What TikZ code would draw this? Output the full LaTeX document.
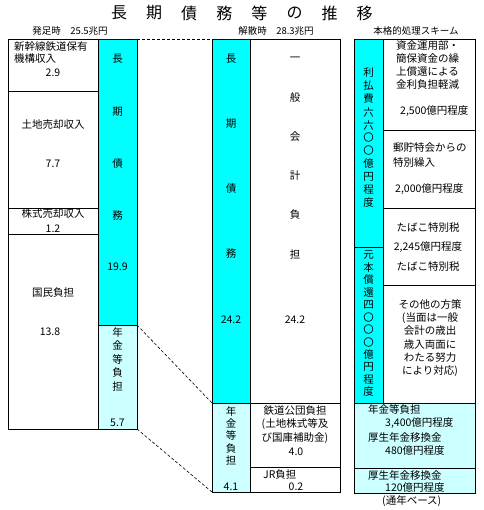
\documentclass[tikz,border=0pt]{standalone}
\usepackage{fontspec}
\setmainfont{Noto Sans CJK JP}
\usepackage{xcolor}
\definecolor{DebtCyan}{HTML}{00FFFF}
\definecolor{PensionCyan}{HTML}{CCFFFF}
\usepackage{tikz}
\usetikzlibrary{positioning}
\tikzset{
  cellbox/.style={
    draw,
    fill=white,
    line width=0.9pt,
    anchor=north west,
    inner sep=0pt,
    outer sep=0pt
  },
  debtbar/.style={cellbox, fill=DebtCyan},
  pensionbar/.style={cellbox, fill=PensionCyan},
  celltext/.style={
    font=\fontsize{10.5}{13.2}\selectfont,
    inner sep=0pt
  },
  headtext/.style={
    font=\fontsize{9.5}{11}\selectfont,
    inner sep=0pt
  },
  titlechar/.style={
    font=\fontsize{16}{18}\selectfont,
    inner sep=0pt
  },
  linkline/.style={
    dash pattern=on 3pt off 2pt,
    line width=0.6pt
  }
}

\begin{document}
\begin{tikzpicture}[x=1pt,y=-1pt]
  \useasboundingbox (0,0) rectangle (483,510);
  % title and column heads
  \foreach \ch [count=\i from 0] in {長,期,債,務,等,の,推,移}
    \node[titlechar] (title-\i) at (119+35.1*\i,13) {\ch};
  \node[headtext] (hstart) at (70,31) {発足時\quad 25.5兆円};
  \node[headtext] (hend) at (276,31) {解散時\quad 28.3兆円};
  \node[headtext] (hplan) at (416,31) {本格的処理スキーム};

  % boxes at the start
  \node[cellbox, minimum width=90, minimum height=52] (shinkansen) at (8,39) {};
  \node[cellbox, minimum width=90, minimum height=117] (tochi) at (8,91) {};
  \node[cellbox, minimum width=90, minimum height=26] (kabushiki) at (8,208) {};
  \node[cellbox, minimum width=90, minimum height=195] (kokumin) at (8,234) {};
  \node[debtbar, minimum width=39, minimum height=286] (startdebt) at (98,39) {};
  \node[pensionbar, minimum width=39, minimum height=104] (startpension) at (98,325) {};

  % boxes at dissolution
  \node[debtbar, minimum width=38, minimum height=364] (enddebt) at (212,39) {};
  \node[cellbox, minimum width=90, minimum height=364] (ippan) at (250,39) {};
  \node[pensionbar, minimum width=38, minimum height=89] (endpension) at (212,403) {};
  \node[cellbox, minimum width=90, minimum height=64] (tetsudo) at (250,403) {};
  \node[cellbox, minimum width=90, minimum height=25] (jr) at (250,467) {};

  % boxes of the scheme
  \node[debtbar, minimum width=29, minimum height=208] (interest) at (354,39) {};
  \node[debtbar, minimum width=29, minimum height=156] (principal) at (354,247) {};
  \node[cellbox, minimum width=92, minimum height=91] (unyobu) at (383,39) {};
  \node[cellbox, minimum width=92, minimum height=78] (yucho) at (383,130) {};
  \node[cellbox, minimum width=92, minimum height=77] (tabako) at (383,208) {};
  \node[cellbox, minimum width=92, minimum height=118] (sonota) at (383,285) {};
  \node[pensionbar, minimum width=121, minimum height=65] (nenkin) at (354,403) {};
  \node[pensionbar, minimum width=121, minimum height=25] (kosei) at (354,468) {};

  \draw[linkline] (startdebt.north east) -- (enddebt.north west);
  \draw[linkline] (startpension.north east) -- (endpension.north west);
  \draw[linkline] (startpension.south east) -- (endpension.south west);

  % start column texts
  \node[celltext, anchor=west] (shin-a) at (14,47) {新幹線鉄道保有};
  \node[celltext, anchor=west] (shin-b) at (14,59) {機構収入};
  \node[celltext] (shin-v) at (53,73) {2.9};
  \node[celltext] (tochi-t) at (53,125) {土地売却収入};
  \node[celltext] (tochi-v) at (53,164) {7.7};
  \node[celltext] (kabu-t) at (53,214) {株式売却収入};
  \node[celltext] (kabu-v) at (53,229) {1.2};
  \node[celltext] (kokumin-t) at (53,293) {国民負担};
  \node[celltext] (kokumin-v) at (50,332) {13.8};
  \foreach \ch [count=\i from 0] in {長,期,債,務}
    \node[celltext] (sd-\i) at (117.5,59+52.3*\i) {\ch};
  \node[celltext] (sd-v) at (117.5,267) {19.9};
  \foreach \ch [count=\i from 0] in {年,金,等,負,担}
    \node[celltext] (sp-\i) at (117.5,332+13.5*\i) {\ch};
  \node[celltext] (sp-v) at (117.5,423) {5.7};

  % dissolution column texts
  \foreach \ch [count=\i from 0] in {長,期,債,務}
    \node[celltext] (ed-\i) at (231,59+65*\i) {\ch};
  \node[celltext] (ed-v) at (231,320) {24.2};
  \foreach \ch [count=\i from 0] in {一,般,会,計,負,担}
    \node[celltext] (ip-\i) at (295,59+39*\i) {\ch};
  \node[celltext] (ip-v) at (295,320) {24.2};
  \foreach \ch [count=\i from 0] in {年,金,等,負,担}
    \node[celltext] (ep-\i) at (231,411+12.4*\i) {\ch};
  \node[celltext] (ep-v) at (231,487) {4.1};
  \node[celltext, align=center] (tetsudo-t) at (295,424.5) {鉄道公団負担\\(土地株式等及\\び国庫補助金)};
  \node[celltext] (tetsudo-v) at (296,452) {4.0};
  \node[celltext, anchor=west] (jr-t) at (263,475) {JR負担};
  \node[celltext] (jr-v) at (296,487) {0.2};

  % scheme column texts
  \foreach \ch [count=\i from 0] in {利,払,費,六,六,〇,〇,億,円,程,度}
    \node[celltext] (ri-\i) at (368.5,73+13*\i) {\ch};
  \foreach \ch [count=\i from 0] in {元,本,償,還,四,〇,〇,〇,億,円,程,度}
    \node[celltext] (pr-\i) at (368.5,255+12.45*\i) {\ch};
  \node[celltext, anchor=west, align=left] (unyobu-t) at (396,65) {資金運用部・\\簡保資金の繰\\上償還による\\金利負担軽減};
  \node[celltext, anchor=west] (unyobu-v) at (400,111) {2,500億円程度};
  \node[celltext, anchor=west, align=left,
        font=\fontsize{10.5}{15}\selectfont] (yucho-t) at (393,155.5) {郵貯特会からの\\特別繰入};
  \node[celltext, anchor=west] (yucho-v) at (395,189) {2,000億円程度};
  \node[celltext] (tabako-a) at (428,228) {たばこ特別税};
  \node[celltext] (tabako-v) at (428,247) {2,245億円程度};
  \node[celltext] (tabako-b) at (428,267) {たばこ特別税};
  \node[celltext, align=center] (sonota-t) at (430,338) {その他の方策\\(当面は一般\\会計の歳出\\歳入両面に\\わたる努力\\により対応)};
  \node[celltext, anchor=west] (nenkin-a) at (368,409.5) {年金等負担};
  \node[celltext, anchor=west] (nenkin-b) at (385,423) {3,400億円程度};
  \node[celltext, anchor=west] (nenkin-c) at (368,437) {厚生年金移換金};
  \node[celltext, anchor=west] (nenkin-d) at (385,451) {480億円程度};
  \node[celltext, anchor=west] (kosei-a) at (368,475) {厚生年金移換金};
  \node[celltext, anchor=west] (kosei-b) at (385,487.5) {120億円程度};
  \node[celltext, anchor=west] (kosei-c) at (382,501.5) {(通年ベース)};
\end{tikzpicture}
\end{document}
